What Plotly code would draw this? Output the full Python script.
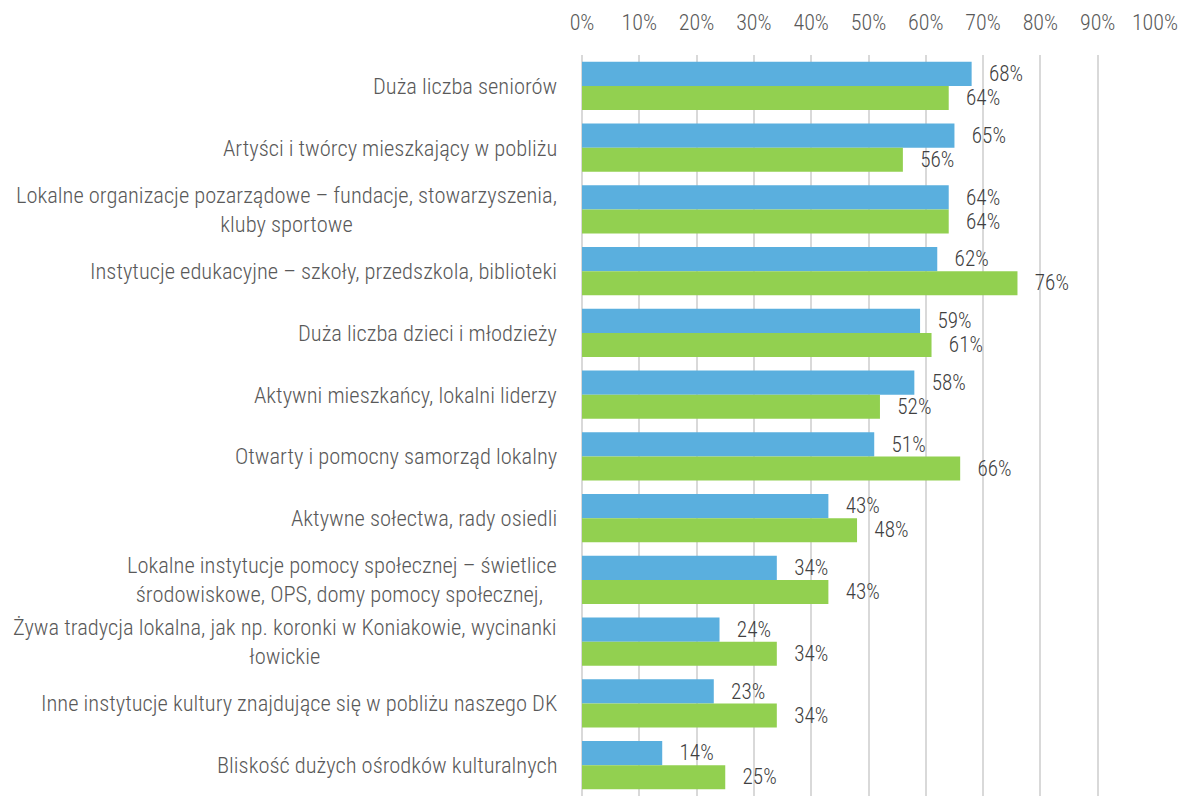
import plotly.graph_objects as go

categories = [
    "Duża liczba seniorów",
    "Artyści i twórcy mieszkający w pobliżu",
    "Lokalne organizacje pozarządowe – fundacje, stowarzyszenia,<br>kluby sportowe",
    "Instytucje edukacyjne – szkoły, przedszkola, biblioteki",
    "Duża liczba dzieci i młodzieży",
    "Aktywni mieszkańcy, lokalni liderzy",
    "Otwarty i pomocny samorząd lokalny",
    "Aktywne sołectwa, rady osiedli",
    "Lokalne instytucje pomocy społecznej – świetlice<br>środowiskowe, OPS, domy pomocy społecznej, ",
    "Żywa tradycja lokalna, jak np. koronki w Koniakowie, wycinanki<br>łowickie",
    "Inne instytucje kultury znajdujące się w pobliżu naszego DK",
    "Bliskość dużych ośrodków kulturalnych",
]
series_blue = [0.68, 0.65, 0.64, 0.62, 0.59, 0.58, 0.51, 0.43, 0.34, 0.24, 0.23, 0.14]
series_green = [0.64, 0.56, 0.64, 0.76, 0.61, 0.52, 0.66, 0.48, 0.43, 0.34, 0.34, 0.25]
tick_values = [i / 10 for i in range(11)]
tick_labels = [f"{i * 10}%" for i in range(11)]

FONT = "Roboto Condensed, Liberation Sans Narrow, Arial Narrow, sans-serif"
SIZE = 22
ids = list(range(len(categories)))

fig = go.Figure()
for vals, color in ((series_blue, "#5AAFDE"), (series_green, "#92D050")):
    fig.add_trace(go.Bar(
        y=ids, x=vals, orientation="h",
        marker=dict(color=color, line=dict(width=0)),
        texttemplate="\u00a0\u00a0\u00a0%{x:.0%}",
        textposition="outside",
        textfont=dict(family=FONT, size=SIZE, color="#404040", weight=300),
        cliponaxis=False,
        hoverinfo="skip",
    ))

# category labels, centred line by line like the wrapped axis text
for i, label in enumerate(categories):
    fig.add_annotation(
        x=0, y=i, xref="paper", yref="y",
        text=label, showarrow=False,
        xanchor="right", yanchor="middle", align="center", xshift=-23,
        font=dict(family=FONT, size=22.5, color="#595959", weight=300),
    )

fig.update_layout(
    width=1181, height=796,
    margin=dict(l=582, r=26, t=55, b=0),
    paper_bgcolor="white", plot_bgcolor="white",
    barmode="group", bargap=0.22, bargroupgap=0,
    showlegend=False,
    font=dict(family=FONT, size=SIZE, color="#595959"),
    xaxis=dict(
        range=[0, 1], side="top", tickvals=tick_values, ticktext=tick_labels,
        showgrid=True, gridcolor="#D9D9D9", gridwidth=1.5,
        zeroline=True, zerolinecolor="#D9D9D9", zerolinewidth=1.5,
        showline=False, ticks="", ticklabelstandoff=20,
        tickfont=dict(family=FONT, size=SIZE, color="#595959", weight=300),
    ),
    yaxis=dict(
        range=[len(categories) - 0.5, -0.5], showticklabels=False,
        showgrid=False, zeroline=False, ticks="",
    ),
)

fig.write_html("out.html")
